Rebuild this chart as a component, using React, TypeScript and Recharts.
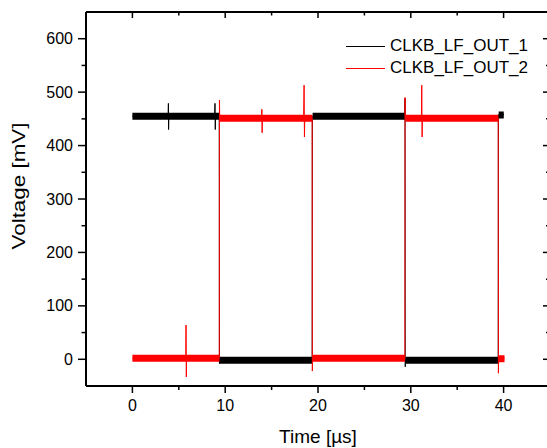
import React from "react";
import { LineChart, Line, XAxis, YAxis, Legend } from "recharts";

const font = "'Liberation Sans', Arial, sans-serif";

const seriesNames = ["CLKB_LF_OUT_1", "CLKB_LF_OUT_2"];
const seriesColors = ["#000000", "#ff0000"];

const timeTicks = [0, 5, 10, 15, 20, 25, 30, 35, 40];
const voltTicks = [0, 50, 100, 150, 200, 250, 300, 350, 400, 450, 500, 550, 600];

// CLKB_LF_OUT_1 – edges and glitches (time in µs, voltage in mV)
const out1Time = [0, 3.85, 3.88, 3.9, 3.93, 8.86, 8.9, 8.93, 8.96, 9.36, 9.38, 9.4, 19.37, 19.39, 19.42, 29.36, 29.38, 29.4, 29.43, 39.42, 39.44, 39.47, 40.02];
const out1Volt = [455, 455, 479, 430, 455, 455, 479, 430, 455, 455, -8, -2, -2, 455, 455, 455, 488, -14, -2, -2, 458, 458, 458];

// CLKB_LF_OUT_2
const out2Time = [0, 5.75, 5.78, 5.81, 5.84, 9.36, 9.38, 9.41, 13.92, 13.95, 13.98, 14.01, 18.45, 18.5, 18.54, 18.58, 19.37, 19.39, 19.42, 29.36, 29.38, 29.41, 31.14, 31.18, 31.22, 31.26, 39.42, 39.44, 39.47, 40.1];
const out2Volt = [2, 2, 64, -33, 2, 2, 485, 451, 451, 468, 424, 451, 451, 513, 416, 451, 451, -22, 2, 2, 490, 451, 451, 513, 416, 451, 451, -26, 2, 2];

// noise band of each trace, level segments only (null = gap at the edges)
const band1Time = [0, 9.38, 9.38, 9.41, 19.39, 19.39, 19.42, 29.38, 29.38, 29.42, 39.44, 39.44, 39.47, 40.02];
const band1Volt = [455, 455, null, -2, -2, null, 455, 455, null, -2, -2, null, 457, 457];
const band2Time = [0, 9.38, 9.38, 9.41, 19.39, 19.39, 19.42, 29.38, 29.38, 29.42, 39.44, 39.44, 39.47, 40.1];
const band2Volt = [2, 2, null, 451, 451, null, 2, 2, null, 451, 451, null, 1, 1];

const zip = (ts: number[], vs: (number | null)[]) => ts.map((t, i) => ({ t, v: vs[i] }));

const out1 = zip(out1Time, out1Volt);
const out2 = zip(out2Time, out2Volt);
const band1 = zip(band1Time, band1Volt);
const band2 = zip(band2Time, band2Volt);

const tickStroke = { stroke: "#000", strokeWidth: 1.5 };

function BottomTick({ x, y, payload }: any) {
  const major = payload.value % 10 === 0;
  return (
    <g>
      <line x1={x} x2={x} y1={y} y2={y + (major ? 7 : 4)} {...tickStroke} />
      {major && (
        <text x={x} y={y + 25} textAnchor="middle" fontSize={16} fill="#000" fontFamily={font}>
          {payload.value}
        </text>
      )}
    </g>
  );
}

function TopTick({ x, y, payload }: any) {
  const major = payload.value % 10 === 0;
  return <line x1={x} x2={x} y1={y} y2={y + (major ? 6 : 3.5)} {...tickStroke} />;
}

function LeftTick({ x, y, payload }: any) {
  const major = payload.value % 100 === 0;
  return (
    <g>
      <line x1={x - (major ? 8 : 4.5)} x2={x} y1={y} y2={y} {...tickStroke} />
      {major && (
        <text x={x - 13} y={y + 5.5} textAnchor="end" fontSize={16} fill="#000" fontFamily={font}>
          {payload.value}
        </text>
      )}
    </g>
  );
}

function RightTick({ x, y, payload }: any) {
  const major = payload.value % 100 === 0;
  return <line x1={x - (major ? 7 : 4)} x2={x} y1={y} y2={y} {...tickStroke} />;
}

const VoltageTitle = () => (
  <text
    transform="translate(25, 186) rotate(-90)"
    textAnchor="middle"
    fontSize={19}
    fill="#000"
    fontFamily={font}
    textLength={127}
    lengthAdjust="spacingAndGlyphs"
  >
    Voltage [mV]
  </text>
);

const renderLegend = () => (
  <div style={{ fontFamily: font, fontSize: 17, color: "#000" }}>
    {seriesNames.map((name, i) => (
      <div key={name} style={{ display: "flex", alignItems: "center", height: 22 }}>
        <span
          style={{ display: "inline-block", width: 39, borderTop: `1px solid ${seriesColors[i]}`, marginRight: 5 }}
        />
        <span>{name}</span>
      </div>
    ))}
  </div>
);

const axisLine = { stroke: "#000", strokeWidth: 2 };

export default function App() {
  return (
    <div style={{ position: "absolute", left: 0, top: 0, width: 547, height: 448, overflow: "hidden", background: "#fff" }}>
      <LineChart width={551} height={448} margin={{ top: 0, right: 0, bottom: 0, left: 0 }} style={{ fontFamily: font }}>
        <XAxis
          dataKey="t"
          type="number"
          domain={[-5, 45]}
          allowDataOverflow
          ticks={timeTicks}
          height={62}
          axisLine={axisLine}
          tickLine={false}
          tickSize={0}
          tickMargin={0}
          tick={(p: any) => <BottomTick {...p} />}
          label={{ value: "Time [µs]", position: "insideBottom", offset: 5, fontSize: 19, fill: "#000", fontFamily: font }}
        />
        <XAxis
          xAxisId="top"
          orientation="top"
          dataKey="t"
          type="number"
          domain={[-5, 45]}
          allowDataOverflow
          ticks={timeTicks}
          height={12}
          axisLine={axisLine}
          tickLine={false}
          tickSize={0}
          tickMargin={0}
          tick={(p: any) => <TopTick {...p} />}
        />
        <YAxis
          type="number"
          domain={[-50, 650]}
          allowDataOverflow
          ticks={voltTicks}
          width={86}
          axisLine={axisLine}
          tickLine={false}
          tickSize={0}
          tickMargin={0}
          tick={(p: any) => <LeftTick {...p} />}
          label={{ content: () => <VoltageTitle /> }}
        />
        <YAxis
          yAxisId="right"
          orientation="right"
          type="number"
          domain={[-50, 650]}
          allowDataOverflow
          ticks={voltTicks}
          width={1}
          axisLine={axisLine}
          tickLine={false}
          tickSize={0}
          tickMargin={0}
          tick={(p: any) => <RightTick {...p} />}
        />
        <Legend
          layout="vertical"
          align="center"
          verticalAlign="middle"
          wrapperStyle={{ left: 346, top: 35, width: 200 }}
          content={renderLegend}
        />
        <Line data={band1} dataKey="v" name="band1" stroke={seriesColors[0]} strokeWidth={7} dot={false} activeDot={false} legendType="none" isAnimationActive={false} />
        <Line data={out1} dataKey="v" name={seriesNames[0]} stroke={seriesColors[0]} strokeWidth={1} dot={false} activeDot={false} isAnimationActive={false} />
        <Line data={band2} dataKey="v" name="band2" stroke={seriesColors[1]} strokeWidth={7} dot={false} activeDot={false} legendType="none" isAnimationActive={false} />
        <Line data={out2} dataKey="v" name={seriesNames[1]} stroke={seriesColors[1]} strokeWidth={1} dot={false} activeDot={false} isAnimationActive={false} />
      </LineChart>
    </div>
  );
}
